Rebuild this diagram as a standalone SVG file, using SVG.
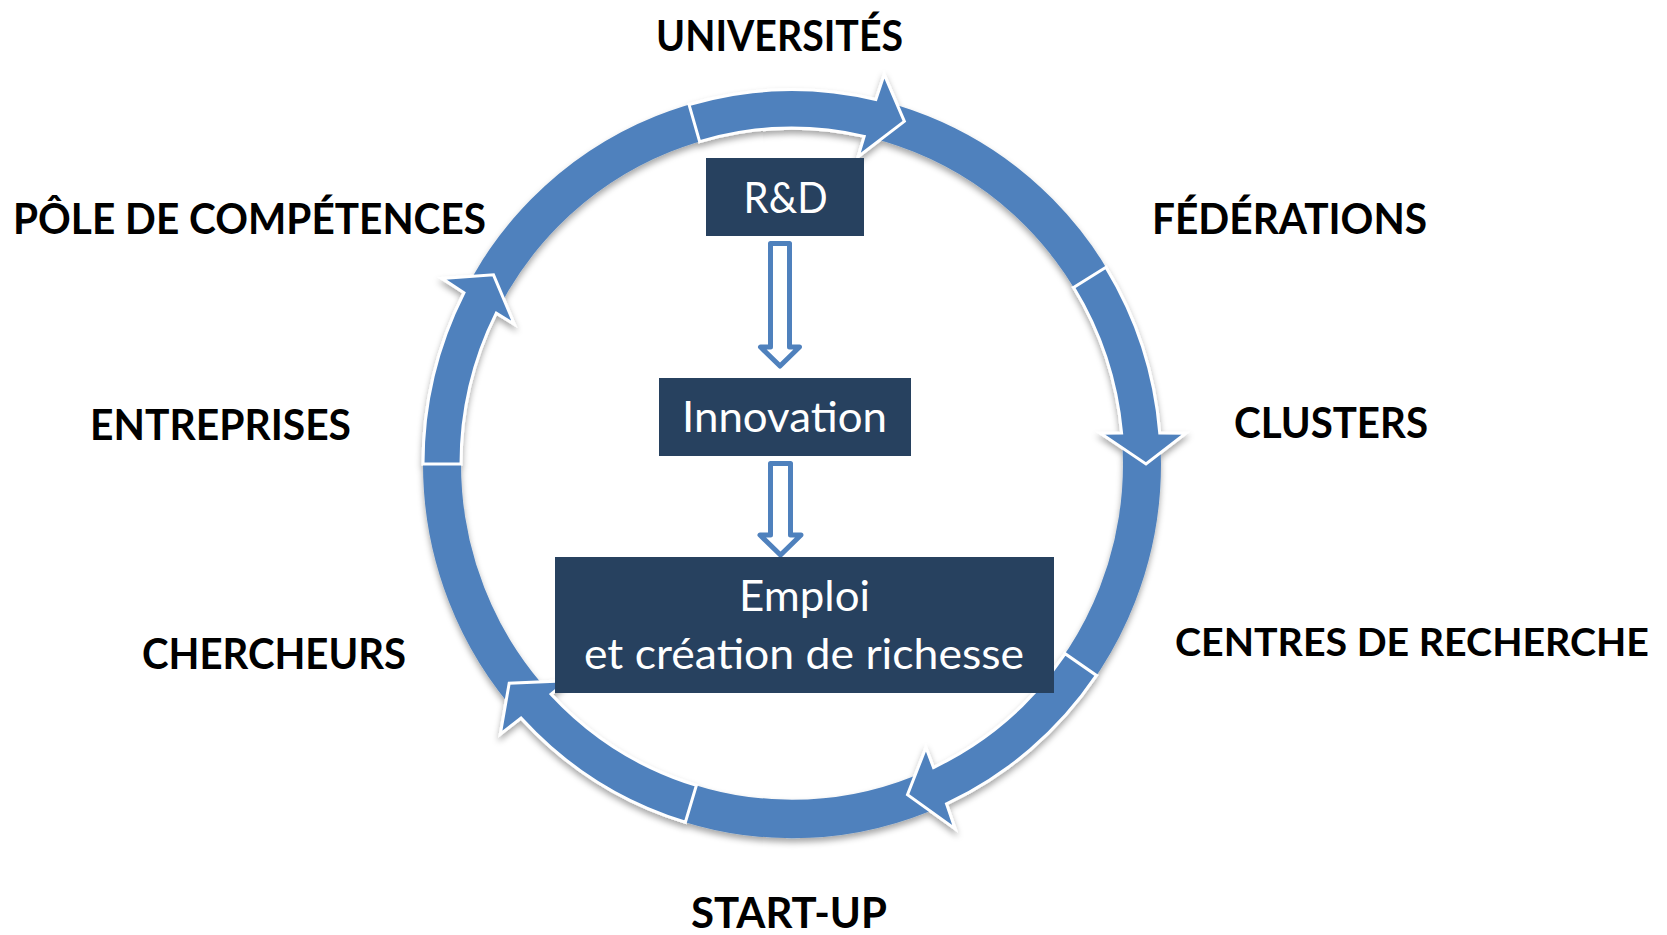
<svg xmlns="http://www.w3.org/2000/svg" width="1667" height="935" viewBox="0 0 1667 935">
<defs>
<filter id="shadow" x="-10%" y="-10%" width="120%" height="120%">
<feDropShadow dx="0" dy="4" stdDeviation="3" flood-color="#000" flood-opacity="0.35"/>
</filter>
<style>
.lbl{font-family:Lato,"Open Sans","Liberation Sans",sans-serif;font-weight:bold;font-size:42px;fill:#000;}
.box{fill:#27415F;}
.btxt{font-family:Lato,"Open Sans","Liberation Sans",sans-serif;font-size:42px;fill:#fff;}
.arc{fill:#4F81BD;stroke:#fff;stroke-width:3;stroke-linejoin:miter;}
.down{fill:#fff;stroke:#4F81BD;stroke-width:5;stroke-linejoin:round;}
</style>
</defs>
<rect width="1667" height="935" fill="#fff"/>

<g id="cycle-connectors" transform="translate(792,464) scale(1,1.0143)" filter="url(#shadow)">
<circle r="350" fill="none" stroke="#4F81BD" stroke-width="38"/>
<path class="arc" d="M -102.95,-354.35 A 369 369 0 0 1 83.87,-359.33 L 92.19,-384.10 L 112.35,-337.81 L 66.03,-302.87 L 72.19,-323.02 A 331 331 0 0 0 -92.35,-317.86 Z"/>
<path class="arc" d="M 313.95,-193.91 A 369 369 0 0 1 367.73,-30.62 L 393.83,-30.30 L 354,0 L 308.52,-30.25 L 329.58,-30.57 A 331 331 0 0 0 281.61,-173.94 Z"/>
<path class="arc" d="M 304.46,208.49 A 369 369 0 0 1 154.54,335.09 L 163.17,359.73 L 115.49,326.14 L 133.95,279.56 L 141.47,299.26 A 331 331 0 0 0 273.11,187.02 Z"/>
<path class="arc" d="M -106.64,353.24 A 369 369 0 0 1 -270.96,250.51 L -291.71,266.35 L -282.81,216.23 L -224.50,213.78 L -240.90,227.0 A 331 331 0 0 0 -95.66,316.87 Z"/>
<path class="arc" d="M -369,0 A 369 369 0 0 1 -328.08,-168.89 L -350.05,-183.00 L -298.50,-186.52 L -277.67,-137.83 L -295.72,-148.72 A 331 331 0 0 0 -331,0 Z"/>
</g>

<g id="connectors">
<path class="down" d="M 770.5,243.5 H 789.5 V 347 H 799.5 L 780,366 L 760.5,347 H 770.5 Z"/>
<path class="down" d="M 770.5,463.5 H 790.5 V 535 H 801 L 780.5,555 L 760,535 H 770.5 Z"/>
</g>

<g id="node-rd">
<rect class="box" x="706" y="158" width="158" height="78"/>
<text class="btxt" x="743.6" y="213" textLength="84" lengthAdjust="spacingAndGlyphs">R&amp;D</text>
</g>
<g id="node-innovation">
<rect class="box" x="659" y="378" width="252" height="78"/>
<text class="btxt" x="682" y="432" textLength="205" lengthAdjust="spacingAndGlyphs">Innovation</text>
</g>
<g id="node-emploi">
<rect class="box" x="555" y="557" width="499" height="136"/>
<text class="btxt" x="739" y="611" textLength="131" lengthAdjust="spacingAndGlyphs">Emploi</text>
<text class="btxt" x="584" y="669" textLength="440" lengthAdjust="spacingAndGlyphs">et création de richesse</text>
</g>

<g id="label-universites"><text class="lbl" x="656" y="51" textLength="247" lengthAdjust="spacingAndGlyphs">UNIVERSITÉS</text></g>
<g id="label-pole"><text class="lbl" x="13" y="234" textLength="473" lengthAdjust="spacingAndGlyphs">PÔLE DE COMPÉTENCES</text></g>
<g id="label-federations"><text class="lbl" x="1152" y="234" textLength="275" lengthAdjust="spacingAndGlyphs">FÉDÉRATIONS</text></g>
<g id="label-entreprises"><text class="lbl" x="90" y="440" textLength="261" lengthAdjust="spacingAndGlyphs">ENTREPRISES</text></g>
<g id="label-clusters"><text class="lbl" x="1234" y="438" textLength="194" lengthAdjust="spacingAndGlyphs">CLUSTERS</text></g>
<g id="label-chercheurs"><text class="lbl" x="142" y="669" textLength="264" lengthAdjust="spacingAndGlyphs">CHERCHEURS</text></g>
<g id="label-centres"><text class="lbl" x="1175" y="656" style="font-size:39px" textLength="474" lengthAdjust="spacingAndGlyphs">CENTRES DE RECHERCHE</text></g>
<g id="label-startup"><text class="lbl" x="691" y="928" textLength="196" lengthAdjust="spacingAndGlyphs">START-UP</text></g>
</svg>
